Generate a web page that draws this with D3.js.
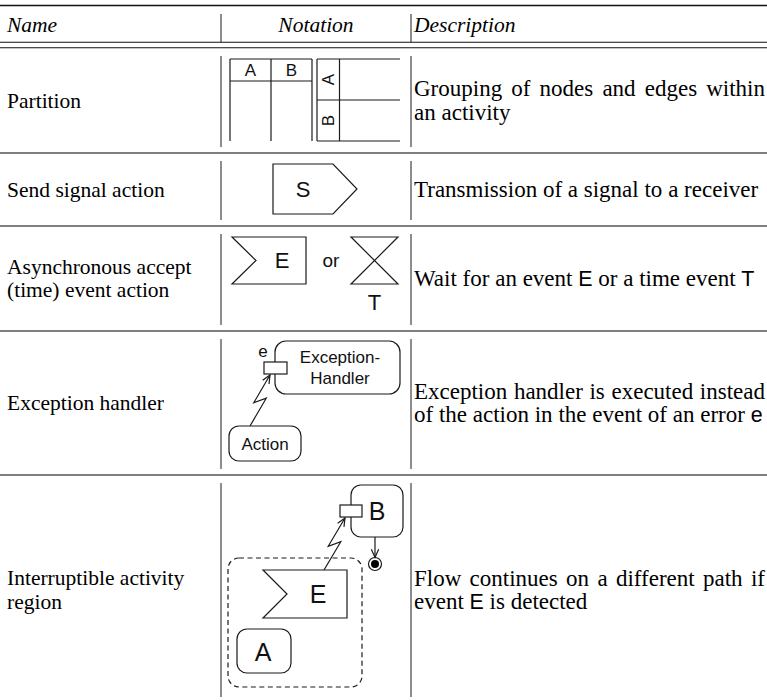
<!DOCTYPE html>
<html><head><meta charset="utf-8">
<script src="https://cdn.jsdelivr.net/npm/d3@7"></script>
<style>html,body{margin:0;padding:0;background:#fff}</style>
</head><body>
<svg id="c" width="767" height="700"></svg>
<script>
// ---- data ----
const headers = ["Name", "Notation", "Description"];
const names = [
  ["Partition"],
  ["Send signal action"],
  ["Asynchronous accept", "(time) event action"],
  ["Exception handler"],
  ["Interruptible activity", "region"]
];
// {x} marks a sans-serif glyph; trailing "|" marks justified line
const descriptions = [
  ["Grouping of nodes and edges within|", "an activity"],
  ["Transmission of a signal to a receiver"],
  ["Wait for an event {E} or a time event {T}"],
  ["Exception handler is executed instead|", "of the action in the event of an error {e}"],
  ["Flow continues on a different path if|", "event {E} is detected"]
];
const partitionLabels = ["A", "B"];
const signalLabels = {send: "S", accept: "E", or: "or", time: "T"};
const exceptionLabels = {port: "e", handler: ["Exception-", "Handler"], action: "Action"};
const interruptLabels = {b: "B", e: "E", a: "A"};

// ---- layout ----
const W = 767;
const col = {nameX: 7, sep1: 221, sep2: 411, descX: 414, descR: 765};
const rowEdges = [48, 153, 226, 331, 475, 712];
const serif = "'Liberation Serif','Times New Roman',serif";
const sans = "'Liberation Sans',Arial,Helvetica,sans-serif";
const FS = 21.5, DFS = 23.0, LH = 23.5;
const ink = "#1a1a1a";

const svg = d3.select("#c");

// rules
svg.append("line").attr("x1",0).attr("x2",W).attr("y1",5.5).attr("y2",5.5).attr("stroke","#111").attr("stroke-width",1.6);
svg.append("line").attr("x1",0).attr("x2",W).attr("y1",42.3).attr("y2",42.3).attr("stroke","#111").attr("stroke-width",1.1);
svg.append("line").attr("x1",0).attr("x2",W).attr("y1",47.8).attr("y2",47.8).attr("stroke","#111").attr("stroke-width",1.1);
rowEdges.slice(1,-1).forEach(y=>{
  svg.append("line").attr("x1",0).attr("x2",W).attr("y1",y).attr("y2",y).attr("stroke","#555").attr("stroke-width",1.6);
});
// header vertical separators
[col.sep1, col.sep2].forEach(x=>{
  svg.append("line").attr("x1",x).attr("x2",x).attr("y1",14).attr("y2",42).attr("stroke",ink).attr("stroke-width",1);
});
// row vertical separators (broken near rules)
rowEdges.slice(0,-1).forEach((y0,i)=>{
  const y1 = rowEdges[i+1];
  [col.sep1, col.sep2].forEach(x=>{
    svg.append("line").attr("x1",x).attr("x2",x).attr("y1",y0+8).attr("y2",Math.min(y1-6,697)).attr("stroke",ink).attr("stroke-width",1);
  });
});

// header text
const hy = 32;
svg.append("text").attr("x",col.nameX).attr("y",hy).attr("font-family",serif).attr("font-style","italic").attr("font-size",FS).text(headers[0]);
svg.append("text").attr("x",(col.sep1+col.sep2)/2).attr("y",hy).attr("text-anchor","middle").attr("font-family",serif).attr("font-style","italic").attr("font-size",FS).text(headers[1]);
svg.append("text").attr("x",col.descX).attr("y",hy).attr("font-family",serif).attr("font-style","italic").attr("font-size",FS).text(headers[2]);

function rowMid(i){ return (rowEdges[i] + Math.min(rowEdges[i+1],700))/2; }

// names
names.forEach((lines,i)=>{
  const mid = i===4 ? 590 : rowMid(i);
  const y0 = mid - (lines.length-1)*LH/2 + FS*0.33;
  lines.forEach((t,k)=>{
    svg.append("text").attr("x",col.nameX).attr("y",y0+k*LH).attr("font-family",serif).attr("font-size",FS).attr("fill","#000").text(t);
  });
});

// descriptions with justification
function tokens(line){
  return line.split(" ").map(w=>{
    const m = w.match(/^\{(.+)\}$/);
    return m ? {t:m[1], sans:true} : {t:w, sans:false};
  });
}
descriptions.forEach((lines,i)=>{
  const mid = i===4 ? 590 : rowMid(i);
  const y0 = mid - (lines.length-1)*LH/2 + DFS*0.33;
  lines.forEach((raw,k)=>{
    const just = raw.endsWith("|");
    const line = just ? raw.slice(0,-1) : raw;
    const toks = tokens(line);
    const g = svg.append("g");
    const nodes = toks.map(tk=> g.append("text").attr("y",y0+k*LH)
      .attr("font-family", tk.sans?sans:serif).attr("font-size", tk.sans?DFS*0.93:DFS).attr("fill","#000").text(tk.t));
    const widths = nodes.map(n=>n.node().getComputedTextLength());
    const sum = d3.sum(widths);
    const space = DFS*0.25;
    const gap = just ? (col.descR - col.descX - sum)/(toks.length-1) : space;
    let x = col.descX;
    nodes.forEach((n,j)=>{ n.attr("x",x); x += widths[j] + gap; });
  });
});

// ---- notation drawings ----
const N = svg.append("g").attr("fill","none").attr("stroke",ink).attr("stroke-width",1.2);
function label(x,y,t,size){
  svg.append("text").attr("x",x).attr("y",y).attr("text-anchor","middle").attr("dominant-baseline","central")
    .attr("font-family",sans).attr("font-size",size).attr("fill","#111").text(t);
}
const line = d3.line();

// Partition: vertical swimlanes
{
  const x0=230, x1=271, x2=312, y0=59, yh=81, y1=141;
  N.append("path").attr("d", line([[x0,y0],[x2,y0]]));
  N.append("path").attr("d", line([[x0,yh],[x2,yh]]));
  [x0,x1,x2].forEach(x=>N.append("path").attr("d", line([[x,y0],[x,y1]])));
  label((x0+x1)/2, 70.5, partitionLabels[0], 17);
  label((x1+x2)/2, 70.5, partitionLabels[1], 17);
  // horizontal swimlanes
  const hx0=317, hx1=339.5, hx2=400, hy0=59, hym=100, hy1=141;
  [hy0,hym,hy1].forEach(y=>N.append("path").attr("d", line([[hx0,y],[hx2,y]])));
  N.append("path").attr("d", line([[hx0,hy0],[hx0,hy1]]));
  N.append("path").attr("d", line([[hx1,hy0],[hx1,hy1]]));
  [[partitionLabels[0],(hy0+hym)/2],[partitionLabels[1],(hym+hy1)/2]].forEach(([t,y])=>{
    svg.append("text").attr("transform",`translate(${(hx0+hx1)/2},${y}) rotate(-90)`)
      .attr("text-anchor","middle").attr("dominant-baseline","central")
      .attr("font-family",sans).attr("font-size",17).attr("fill","#111").text(t);
  });
}

// Send signal
N.append("path").attr("d", line([[273,164],[333,164],[357,189],[333,214],[273,214]])+"Z");
label(303,189,signalLabels.send,22);

// Accept event / time event
N.append("path").attr("d", line([[232,237],[306,237],[306,284],[232,284],[256,260.5]])+"Z");
label(282,260,signalLabels.accept,22);
label(331,260,signalLabels.or,19);
N.append("path").attr("d", line([[351,237],[398,237],[351,284],[398,284]])+"Z");
label(374.5,302,signalLabels.time,22);

// lightning with open arrowhead
function lightning(s,e){
  const dx=e[0]-s[0], dy=e[1]-s[1], L=Math.hypot(dx,dy);
  const ux=dx/L, uy=dy/L, px=-uy, py=ux;
  const m=[(s[0]+e[0])/2,(s[1]+e[1])/2];
  const p1=[m[0]+ux*L*0.08+px*5, m[1]+uy*L*0.08+py*5];
  const p2=[m[0]-ux*L*0.08-px*5, m[1]-uy*L*0.08-py*5];
  N.append("path").attr("d", line([s,p1,p2,e]));
  arrowHead(p2,e);
}
function arrowHead(from,to){
  const dx=to[0]-from[0], dy=to[1]-from[1], L=Math.hypot(dx,dy);
  const ux=dx/L, uy=dy/L, len=9, a=0.42;
  const c=Math.cos(a), s=Math.sin(a);
  const l=[to[0]-len*(ux*c - uy*s), to[1]-len*(uy*c + ux*s)];
  const r=[to[0]-len*(ux*c + uy*s), to[1]-len*(uy*c - ux*s)];
  N.append("path").attr("d", line([l,to,r]));
}

// Exception handler
N.append("rect").attr("x",275).attr("y",341).attr("width",125).attr("height",53).attr("rx",11);
N.append("rect").attr("x",264).attr("y",362).attr("width",23).attr("height",12).attr("fill","#fff");
label(263,351,exceptionLabels.port,17);
label(340,357,exceptionLabels.handler[0],17);
label(340,378,exceptionLabels.handler[1],17);
N.append("rect").attr("x",229).attr("y",426).attr("width",72).attr("height",35).attr("rx",10);
label(265,444,exceptionLabels.action,17);
lightning([250,426],[270,375]);

// Interruptible region
N.append("rect").attr("x",228).attr("y",558).attr("width",134).attr("height",129).attr("rx",11).attr("stroke-dasharray","5,3.5");
N.append("rect").attr("x",351).attr("y",485).attr("width",52).attr("height",52).attr("rx",10);
N.append("rect").attr("x",340).attr("y",505).attr("width",22).attr("height",12).attr("fill","#fff");
label(377,511,interruptLabels.b,25);
N.append("path").attr("d", line([[375,537],[375,557.5]]));
arrowHead([375,537],[375,557.5]);
N.append("circle").attr("cx",375).attr("cy",564).attr("r",6.5);
svg.append("circle").attr("cx",375).attr("cy",564).attr("r",4).attr("fill","#000");
N.append("path").attr("d", line([[263,570],[347,570],[347,618],[263,618],[287,594]])+"Z").attr("fill","#fff");
label(318,594,interruptLabels.e,25);
N.append("rect").attr("x",237).attr("y",629).attr("width",54).attr("height",44).attr("rx",10);
label(263,652,interruptLabels.a,25);
lightning([324,570],[345,518]);
</script>
</body></html>
